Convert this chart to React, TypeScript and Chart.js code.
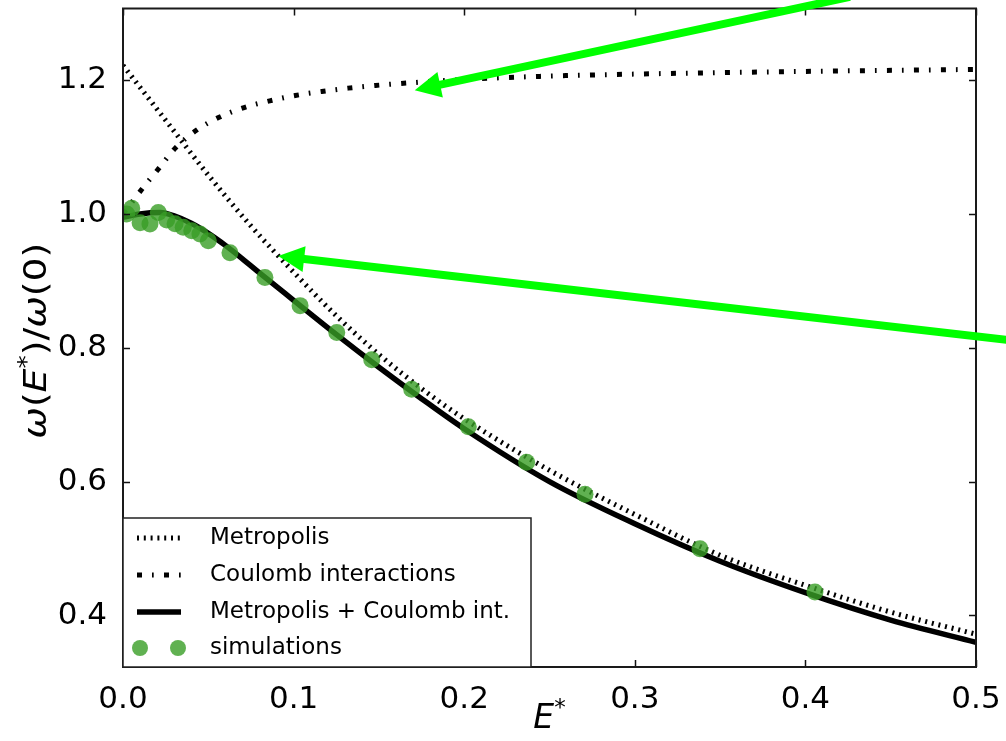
import { useEffect, useRef } from "react";
import { Chart, registerables } from "chart.js";

Chart.register(...registerables);

// Metropolis rate alone (dotted)
const metropolisE = [0, 0.025, 0.05, 0.075, 0.1, 0.125, 0.15, 0.175, 0.2, 0.25, 0.3, 0.35, 0.4, 0.45, 0.5];
const metropolisW = [1.222, 1.14, 1.058, 0.982, 0.913, 0.848, 0.79, 0.739, 0.694, 0.617, 0.551, 0.49, 0.445, 0.405, 0.372];

// Coulomb interactions alone (dash-dot)
const coulombE = [0, 0.012, 0.021, 0.0305, 0.043, 0.056, 0.071, 0.086, 0.101, 0.1165, 0.132, 0.148, 0.163, 0.2, 0.25, 0.3, 0.4, 0.5];
const coulombW = [1.0, 1.04, 1.068, 1.098, 1.125, 1.144, 1.159, 1.169, 1.177, 1.183, 1.188, 1.192, 1.195, 1.201, 1.206, 1.209, 1.213, 1.216];

// Metropolis + Coulomb interactions (solid)
const combinedE = [0, 0.01, 0.022, 0.03, 0.04, 0.05, 0.06, 0.07, 0.08, 0.1, 0.125, 0.15, 0.175, 0.2, 0.25, 0.3, 0.35, 0.4, 0.45, 0.5];
const combinedW = [0.995, 1.0, 1.002, 0.997, 0.986, 0.971, 0.953, 0.933, 0.912, 0.871, 0.82, 0.771, 0.724, 0.679, 0.6, 0.537, 0.481, 0.434, 0.393, 0.36];

// Simulation results
const simulationE = [0.0022, 0.0051, 0.01, 0.0158, 0.0207, 0.0256, 0.0305, 0.0353, 0.0403, 0.0451, 0.05, 0.0627, 0.0832, 0.1038, 0.1253, 0.1458, 0.1692, 0.2024, 0.2366, 0.2708, 0.3382, 0.4056];
const simulationW = [1.0, 1.0085, 0.987, 0.985, 1.002, 0.991, 0.9855, 0.98, 0.975, 0.97, 0.96, 0.942, 0.905, 0.863, 0.823, 0.782, 0.738, 0.682, 0.629, 0.581, 0.4996, 0.435];

const seriesLabels = ["Metropolis", "Coulomb interactions", "Metropolis + Coulomb int.", "simulations"];

const xTicks = [0, 0.1, 0.2, 0.3, 0.4, 0.5];
const yTicks = [0.4, 0.6, 0.8, 1.0, 1.2];

// Pointer arrows: [tailE, tailW, tipE, tipW]
const arrowCoulomb = [0.4261, 1.3243, 0.171, 1.185];
const arrowMetropolis = [0.5317, 0.808, 0.091, 0.937];

const FONT = "'DejaVu Sans', sans-serif";
const METRO_DASH = [2, 4.8];
const COULOMB_DASH = [5, 10, 1.7, 10.3];
const SIM_COLOR = "rgba(56, 158, 38, 0.8)";

const toPoints = (xs: number[], ys: number[]) => xs.map((x, i) => ({ x, y: ys[i] }));

type Part = { t: string; it?: boolean; sup?: boolean };

// Draws a short math-style label centred on the current origin; `stretch`
// widens the run along its baseline.
function drawRich(ctx: CanvasRenderingContext2D, parts: Part[], size: number, stretch = 1) {
  const fontOf = (p: Part) =>
    p.sup ? `${size * 0.7}px ${FONT}` : `${p.it ? "oblique " : ""}${size}px ${FONT}`;
  let total = 0;
  const widths = parts.map((p) => {
    ctx.font = fontOf(p);
    const w = ctx.measureText(p.t).width;
    total += w;
    return w;
  });
  ctx.scale(stretch, 1);
  let x = -total / 2;
  parts.forEach((p, i) => {
    ctx.font = fontOf(p);
    ctx.fillText(p.t, x, p.sup ? -size * 0.38 : 0);
    x += widths[i];
  });
}

const framePlugin = {
  id: "frame",
  afterDatasetsDraw(chart: any) {
    const { ctx, chartArea: a, scales } = chart;
    ctx.save();
    ctx.strokeStyle = "#111";
    ctx.lineWidth = 1.5;
    const len = 7;
    ctx.beginPath();
    scales.y.ticks.forEach((t: any) => {
      const py = Math.round(scales.y.getPixelForValue(t.value)) + 0.5;
      ctx.moveTo(a.left, py);
      ctx.lineTo(a.left + len, py);
      ctx.moveTo(a.right, py);
      ctx.lineTo(a.right - len, py);
    });
    scales.x.ticks.forEach((t: any) => {
      const px = Math.round(scales.x.getPixelForValue(t.value)) + 0.5;
      ctx.moveTo(px, a.bottom);
      ctx.lineTo(px, a.bottom - len);
      ctx.moveTo(px, a.top);
      ctx.lineTo(px, a.top + len);
    });
    ctx.stroke();
    ctx.lineWidth = 2;
    ctx.strokeStyle = "#1a1a1a";
    ctx.strokeRect(a.left, a.top, a.right - a.left, a.bottom - a.top);

    // legend
    const bx = a.left;
    const by = 518;
    const bw = 408;
    const bh = a.bottom - by;
    ctx.fillStyle = "#fff";
    ctx.fillRect(bx, by, bw, bh);
    ctx.lineWidth = 1.5;
    ctx.strokeStyle = "#222";
    ctx.strokeRect(bx, by, bw, bh);
    const rows = [538, 575, 612, 648];
    const x0 = bx + 14;
    const x1 = bx + 58;
    const datasets = chart.data.datasets;
    const styled = [
      { ds: datasets[1], row: rows[0] },
      { ds: datasets[2], row: rows[1] },
      { ds: datasets[3], row: rows[2] },
    ];
    styled.forEach(({ ds, row }) => {
      ctx.beginPath();
      ctx.setLineDash(ds.borderDash || []);
      ctx.lineWidth = ds.borderWidth;
      ctx.strokeStyle = ds.borderColor;
      ctx.lineCap = "butt";
      ctx.moveTo(x0, row);
      ctx.lineTo(x1, row);
      ctx.stroke();
    });
    ctx.setLineDash([]);
    ctx.fillStyle = SIM_COLOR;
    [x0 + 3, x1 - 3].forEach((cx) => {
      ctx.beginPath();
      ctx.arc(cx, rows[3], 8, 0, Math.PI * 2);
      ctx.fill();
    });
    ctx.fillStyle = "#000";
    ctx.font = `23px ${FONT}`;
    ctx.textBaseline = "middle";
    ctx.textAlign = "left";
    seriesLabels.forEach((s, i) => ctx.fillText(s, bx + 87, rows[i]));

    // axis titles
    ctx.textBaseline = "alphabetic";
    ctx.save();
    ctx.translate((a.left + a.right) / 2, 728);
    drawRich(ctx, [{ t: "E", it: true }, { t: "*", sup: true }], 33);
    ctx.restore();
    ctx.save();
    ctx.translate(46, (a.top + a.bottom) / 2 + 3);
    ctx.rotate(-Math.PI / 2);
    drawRich(
      ctx,
      [
        { t: "ω", it: true },
        { t: "(" },
        { t: "E", it: true },
        { t: "*", sup: true },
        { t: ")/" },
        { t: "ω", it: true },
        { t: "(0)" },
      ],
      32,
      1.18
    );
    ctx.restore();
    ctx.restore();
  },
  afterDraw(chart: any) {
    const { ctx, scales } = chart;
    ctx.save();
    ctx.strokeStyle = "#00ff00";
    ctx.fillStyle = "#00ff00";
    [arrowCoulomb, arrowMetropolis].forEach(([te, tw, he, hw]) => {
      const tx = scales.x.getPixelForValue(te);
      const ty = scales.y.getPixelForValue(tw);
      const hx = scales.x.getPixelForValue(he);
      const hy = scales.y.getPixelForValue(hw);
      const ang = Math.atan2(hy - ty, hx - tx);
      const headLen = 26;
      const headHalf = 13;
      const bxp = hx - headLen * Math.cos(ang);
      const byp = hy - headLen * Math.sin(ang);
      ctx.lineWidth = 8;
      ctx.beginPath();
      ctx.moveTo(tx, ty);
      ctx.lineTo(bxp + 2 * Math.cos(ang), byp + 2 * Math.sin(ang));
      ctx.stroke();
      ctx.beginPath();
      ctx.moveTo(hx, hy);
      ctx.lineTo(bxp - headHalf * Math.sin(ang), byp + headHalf * Math.cos(ang));
      ctx.lineTo(bxp + headHalf * Math.sin(ang), byp - headHalf * Math.cos(ang));
      ctx.closePath();
      ctx.fill();
    });
    ctx.restore();
  },
};

export default function App() {
  const ref = useRef<HTMLCanvasElement | null>(null);

  useEffect(() => {
    document.body.style.margin = "0";
    const canvas = ref.current;
    if (!canvas) return;
    const chart = new Chart(canvas, {
      type: "scatter",
      data: {
        datasets: [
          {
            label: seriesLabels[3],
            data: toPoints(simulationE, simulationW),
            backgroundColor: SIM_COLOR,
            borderWidth: 0,
            pointRadius: 8.5,
            pointHoverRadius: 8.5,
            showLine: false,
            order: 0,
          },
          {
            label: seriesLabels[0],
            data: toPoints(metropolisE, metropolisW),
            showLine: true,
            borderColor: "#000",
            borderWidth: 5,
            borderDash: METRO_DASH,
            pointRadius: 0,
            cubicInterpolationMode: "monotone",
            order: 3,
          },
          {
            label: seriesLabels[1],
            data: toPoints(coulombE, coulombW),
            showLine: true,
            borderColor: "#000",
            borderWidth: 5,
            borderDash: COULOMB_DASH,
            pointRadius: 0,
            cubicInterpolationMode: "monotone",
            order: 2,
          },
          {
            label: seriesLabels[2],
            data: toPoints(combinedE, combinedW),
            showLine: true,
            borderColor: "#000",
            borderWidth: 5.5,
            pointRadius: 0,
            cubicInterpolationMode: "monotone",
            order: 1,
          },
        ],
      },
      options: {
        responsive: false,
        animation: false,
        devicePixelRatio: 1,
        layout: { padding: { left: 0, right: 30, top: 6, bottom: 0 } },
        plugins: { legend: { display: false }, tooltip: { enabled: false } },
        scales: {
          x: {
            type: "linear",
            min: 0,
            max: 0.5,
            grid: { display: false },
            border: { display: false },
            afterBuildTicks: (s: any) => {
              s.ticks = xTicks.map((v) => ({ value: v }));
            },
            afterFit: (s: any) => {
              s.height = 74;
              s.paddingLeft = 0;
              s.paddingRight = 0;
            },
            ticks: {
              color: "#000",
              padding: 6,
              font: { family: FONT, size: 31 },
              maxRotation: 0,
              callback: (v: any) => Number(v).toFixed(1),
            },
          },
          y: {
            type: "linear",
            min: 0.323,
            max: 1.307,
            grid: { display: false },
            border: { display: false },
            afterBuildTicks: (s: any) => {
              s.ticks = yTicks.map((v) => ({ value: v }));
            },
            afterFit: (s: any) => {
              s.width = 123;
              s.paddingTop = 0;
              s.paddingBottom = 0;
            },
            ticks: {
              color: "#000",
              padding: 8,
              font: { family: FONT, size: 31 },
              callback: (v: any) => Number(v).toFixed(1),
            },
          },
        },
      },
      plugins: [framePlugin],
    });
    return () => chart.destroy();
  }, []);

  return (
    <div style={{ position: "absolute", left: 0, top: 0, width: 1006, height: 741, background: "#fff" }}>
      <canvas ref={ref} width={1006} height={741} />
    </div>
  );
}
